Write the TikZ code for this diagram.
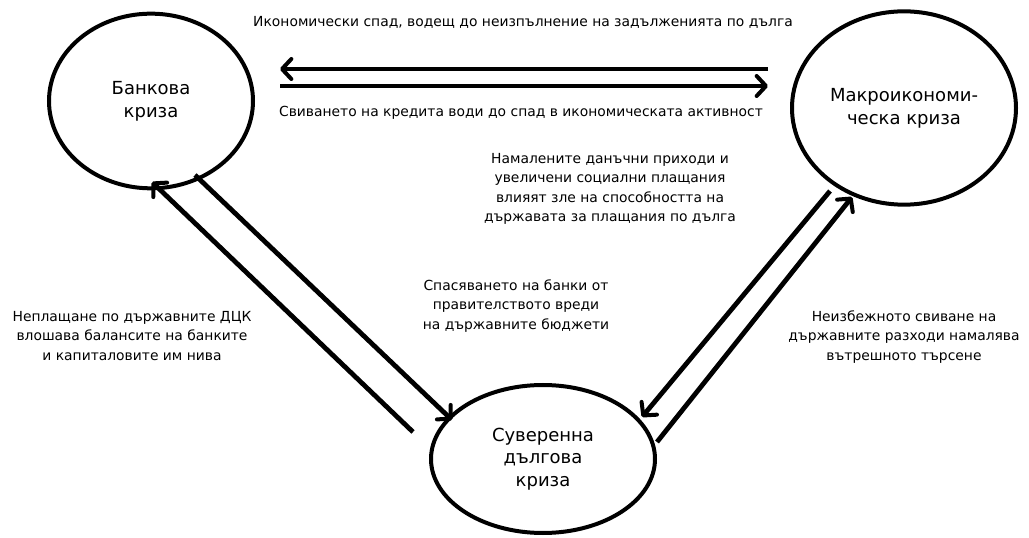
\documentclass[tikz,border=0pt]{standalone}
\usepackage{fontspec}
\setmainfont{DejaVu Sans}
\usetikzlibrary{shapes.geometric,arrows.meta}

\begin{document}
\begin{tikzpicture}[x=0.75pt, y=-0.75pt,  % 1 unidad = 1 pixel
    crisis/.style={ellipse, draw, line width=3pt, inner sep=0pt, align=center,
      font=\fontsize{13.5}{17}\selectfont},
    link/.style={line width=3.6pt,
      -{Straight Barb[length=7pt,width=15pt,line width=3pt,round]}},
    note/.style={align=center, font=\fontsize{10.4}{14.6}\selectfont}]
      \useasboundingbox (0,0) rectangle (1029,538);

      % Las tres crisis
      \node[crisis, minimum width=153pt, minimum height=131pt] (bank) at (151,101) {Банкова\\криза};
      \node[crisis, minimum width=168pt, minimum height=145pt] (macro) at (904,108) {Макроикономи-\\ческа криза};
      \node[crisis, minimum width=168pt, minimum height=111pt] (sov) at (543,459) {Суверенна\\дългова\\криза};

      % Extremos de las flechas (libres, junto a cada elipse)
      \coordinate (bm1) at (280,69);  \coordinate (mb1) at (768,69);
      \coordinate (bm2) at (280,86);  \coordinate (mb2) at (768,86);
      \coordinate (bs1) at (152,182); \coordinate (sb1) at (413,432);
      \coordinate (bs2) at (195,175); \coordinate (sb2) at (452,420);
      \coordinate (ms1) at (830,191); \coordinate (sm1) at (642,417);
      \coordinate (ms2) at (852,197); \coordinate (sm2) at (657,442);

      % Flechas dobles entre las crisis
      \draw[link] (mb1) -- (bm1);
      \draw[link] (bm2) -- (mb2);
      \draw[link] (sb1) -- (bs1);
      \draw[link] (bs2) -- (sb2);
      \draw[link] (ms1) -- (sm1);
      \draw[link] (sm2) -- (ms2);

      % Textos de cada canal
      \node[note] (tbm1) at (523,22) {Икономически спад, водещ до неизпълнение на задълженията по дълга};
      \node[note] (tbm2) at (521,113) {Свиването на кредита води до спад в икономическата активност};
      \node[note] (tms1) at (610,189) {Намалените данъчни приходи и\\увеличени социални плащания\\влияят зле на способността на\\държавата за плащания по дълга};
      \node[note] (tbs2) at (516,306) {Спасяването на банки от\\правителството вреди\\на държавните бюджети};
      \node[note] (tbs1) at (132,336) {Неплащане по държавните ДЦК\\влошава балансите на банките\\и капиталовите им нива};
      \node[note] (tms2) at (904,337) {Неизбежното свиване на\\държавните разходи намалява\\вътрешното търсене};
\end{tikzpicture}
\end{document}
